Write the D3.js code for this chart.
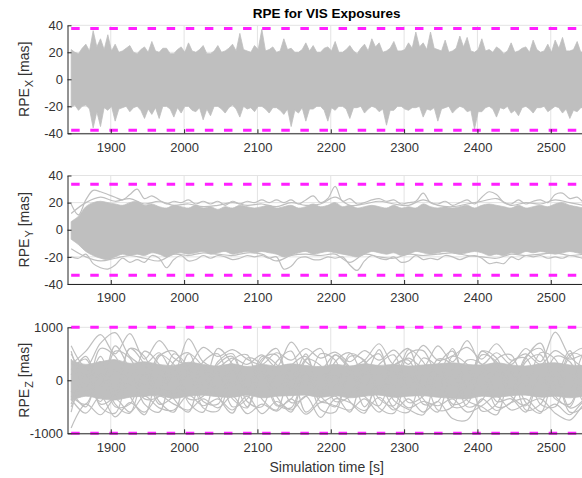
<!DOCTYPE html>
<html><head><meta charset="utf-8">
<script src="https://cdn.jsdelivr.net/npm/d3@7"></script>
<style>body{margin:0;background:#fff} svg{display:block}</style>
</head><body>
<svg id="chart" width="582" height="478"></svg>
<script>
// ---------- data ----------
const titleText = "RPE for VIS Exposures";
const xLabelText = "Simulation time [s]";
const timeStart = 1846;          // first sample [s]
const fineStep = 5;              // RPE_X envelope step [s]
const fastStep = 10;             // RPE_Y envelope step [s]
const slowStep = 20;             // smooth traces step [s]
const xDomain = [1841, 2549];
const xTickValues = [1900, 2000, 2100, 2200, 2300, 2400, 2500];
const yTicksXY = [-40, -20, 0, 20, 40];
const yTicksZ = [-1000, 0, 1000];

// requirement limits (magenta dashed)
const limitX = 37.7, limitY = 33.5, limitZ = 1000;

// RPE_X band envelope (5 s steps)
const rpeXUpper = [22,20,19,23,26,21,36,24,30,22,33,21,26,20,21,23,25,20,19,22,24,20,28,21,20,23,23,19,19,22,24,20,27,21,20,22,25,19,19,21,25,20,21,23,26,21,34,22,21,20,25,22,37,21,22,24,20,21,30,22,23,20,20,22,27,21,25,20,20,23,24,21,28,20,20,22,25,21,19,23,26,21,30,24,27,20,21,23,28,21,21,22,27,23,35,24,27,22,35,23,22,21,29,20,21,23,32,24,31,21,20,22,30,21,22,20,24,22,19,21,27,20,21,23,24,20,29,22,20,21,26,20,29,23,31,21,21,22,28,20,21,23,24];
const rpeXLower = [-21,-19,-23,-20,-19,-22,-36,-24,-35,-21,-23,-20,-31,-22,-21,-20,-24,-21,-20,-23,-29,-22,-26,-21,-29,-20,-20,-22,-28,-21,-25,-20,-20,-23,-24,-21,-30,-22,-27,-20,-20,-22,-25,-21,-19,-22,-28,-20,-22,-21,-24,-20,-20,-22,-25,-21,-21,-23,-26,-22,-35,-23,-25,-21,-31,-22,-22,-20,-20,-23,-31,-21,-23,-20,-20,-22,-29,-21,-21,-20,-25,-22,-20,-21,-24,-22,-34,-23,-23,-20,-20,-22,-23,-21,-21,-20,-28,-22,-23,-21,-31,-22,-21,-20,-25,-22,-20,-21,-24,-23,-37,-24,-24,-21,-20,-22,-28,-21,-22,-20,-25,-23,-27,-21,-20,-22,-25,-21,-21,-20,-24,-22,-20,-21,-25,-22,-29,-23,-24,-21,-21,-22,-23];

// RPE_Y dense core (10 s steps)
const rpeYCoreUpper = [6,10,17,20,21,20,19,18,20,21,18,19,17,16,18,17,16,18,16,17,15,17,16,18,17,16,17,18,16,17,18,16,17,19,17,18,20,17,18,16,17,18,17,16,18,16,17,16,19,17,16,17,16,17,18,16,18,19,18,17,16,18,16,17,18,17,19,20,18,17,16,17];
const rpeYCoreLower = [-7,-11,-16,-19,-21,-22,-20,-18,-19,-18,-19,-17,-18,-20,-18,-17,-18,-17,-16,-18,-17,-16,-18,-17,-16,-17,-16,-17,-18,-20,-19,-17,-16,-18,-17,-16,-17,-18,-19,-20,-18,-16,-17,-18,-17,-19,-18,-16,-17,-18,-17,-16,-17,-18,-17,-16,-17,-19,-18,-19,-17,-18,-16,-17,-16,-17,-18,-17,-16,-17,-18,-16];
// RPE_Y outer traces (10 s steps)
const rpeYUpperEnv = [19,11,22,29,28,26,24,22,26,30,23,25,22,19,21,20,22,19,21,19,21,18,21,19,21,20,22,20,22,20,22,19,22,25,20,23,32,21,23,19,20,22,23,21,22,19,20,21,27,20,19,21,18,20,22,19,24,28,26,20,19,22,19,21,22,20,26,27,23,24,20,22];
const rpeYLowerEnv = [-20,-21,-18,-25,-28,-29,-26,-21,-24,-22,-24,-19,-21,-28,-22,-19,-23,-22,-19,-21,-19,-20,-22,-21,-19,-20,-19,-21,-20,-29,-27,-21,-20,-22,-22,-20,-21,-20,-26,-30,-23,-19,-21,-22,-20,-24,-23,-19,-22,-21,-22,-19,-20,-22,-20,-19,-21,-25,-24,-25,-20,-22,-19,-20,-19,-21,-20,-21,-19,-20,-21,-19];
// RPE_Y intermediate traces (20 s steps)
const rpeYUpperMid = [12,20,24,21,23,19,21,18,19,17,18,20,18,19,17,20,18,19,24,18,19,21,19,18,22,18,17,19,21,23,18,20,19,22,20,18,19];
const rpeYLowerMid = [-14,-20,-23,-21,-19,-21,-23,-18,-19,-17,-18,-19,-17,-18,-23,-19,-18,-19,-18,-24,-18,-20,-21,-18,-19,-18,-17,-19,-20,-21,-18,-19,-18,-17,-19,-18,-17];

// RPE_Z dense core (20 s steps)
const rpeZCoreUpper = [380,300,350,390,320,350,300,280,340,300,270,310,260,300,270,310,280,260,300,270,310,280,300,270,290,310,330,300,290,330,290,270,310,330,290,280,300];
const rpeZCoreLower = [-380,-300,-350,-370,-320,-300,-290,-340,-300,-280,-310,-320,-280,-330,-300,-290,-280,-320,-290,-330,-300,-280,-320,-300,-290,-320,-340,-350,-300,-320,-290,-280,-320,-300,-330,-300,-290];
// RPE_Z individual runs (20 s steps)
const rpeZRunA = [650,250,700,900,450,300,520,150,780,350,250,420,300,480,250,720,350,200,480,250,380,690,300,420,250,650,350,750,300,520,300,600,350,910,450,250,380];
const rpeZRunB = [300,550,860,500,880,400,750,420,300,620,450,580,400,300,520,380,600,420,530,350,560,380,570,300,660,380,460,620,400,690,380,500,300,560,400,480,300];
const rpeZRunC = [-900,-450,-650,-350,-600,-300,-520,-560,-280,-480,-350,-560,-300,-630,-400,-560,-300,-700,-350,-420,-570,-320,-560,-350,-600,-400,-720,-750,-350,-570,-420,-350,-590,-450,-650,-400,-450];
const rpeZRunD = [-350,-620,-300,-690,-420,-600,-300,-450,-560,-350,-520,-300,-630,-450,-580,-350,-640,-420,-480,-560,-350,-600,-300,-520,-400,-480,-350,-600,-480,-300,-560,-450,-350,-620,-750,-450,-350];
const rpeZRunE = [100,450,-100,650,200,-300,450,550,100,-200,300,450,-150,400,480,0,500,-250,350,520,100,580,-200,500,560,100,600,-100,550,420,-150,450,600,100,560,-300,450];
const rpeZRunF = [-200,-500,150,-450,-620,100,-400,-600,200,-520,-580,0,-500,300,-450,-520,150,-550,-600,200,-500,-100,-520,-600,100,-560,-500,200,-580,-450,150,-560,-450,100,-600,-480,200];
const rpeZRunG = [400,-200,600,450,-100,550,300,-250,500,250,-150,380,480,-200,350,550,-100,500,380,-250,300,500,-100,580,350,-200,450,300,-150,400,480,-100,520,400,-200,520,400];
const rpeZRunH = [500,100,350,-300,600,300,-200,350,520,-100,600,300,-200,350,600,-150,380,600,-100,450,380,-200,350,600,-100,300,550,-150,480,350,-200,420,700,-100,450,600,-150];
const rpeZRunI = [-500,-100,-400,200,-300,-650,100,-350,-600,150,-300,-620,100,-350,-560,200,-600,-300,100,-400,-620,150,-380,-550,-650,100,-500,-450,150,-400,-350,-600,100,-350,-450,150,-400];
const rpeZRunJ = [-600,200,-500,-620,100,-450,-600,200,-420,-600,100,-350,-520,150,-300,-600,100,-400,-300,-600,150,-520,-620,100,-350,-600,200,-380,-500,-650,150,-420,-620,100,-520,-350,200];
const rpeZRunK = [200,400,-150,550,420,-100,480,300,-200,350,500,-100,420,300,-150,280,450,-200,480,250,-100,300,480,-150,420,250,-100,380,300,-200,350,420,-100,450,350,-150,420];
const rpeZRunL = [550,-100,450,-200,600,450,-150,500,250,-200,350,500,-150,450,300,-200,400,280,-150,500,350,-200,280,380,-150,400,300,-100,550,300,-200,350,480,-150,500,420,-100];
const rpeZRunM = [-300,-450,100,-500,-450,150,-450,-300,100,-400,-450,200,-400,-500,100,-420,-300,150,-400,-300,100,-350,-480,150,-450,-400,100,-500,-380,150,-300,-480,100,-300,-500,150,-450];
const rpeZRunN = [-450,100,-450,-300,150,-350,-300,100,-350,-300,150,-500,-350,100,-480,-350,150,-300,-500,100,-300,-480,150,-420,-300,100,-450,-350,150,-500,-420,100,-450,-500,150,-420,-300];

// ---------- drawing ----------
const GRAY = "#bfbfbf", MAGENTA = "#ff1fff", AXIS = "#262626", TXT = "#333333", GRID = "#e3e3e3";
const FONT = "'Liberation Sans', Arial, Helvetica, sans-serif";
const svg = d3.select("#chart");
const x = d3.scaleLinear().domain(xDomain).range([67.5, 586.7]);
const tAt = step => (d, i) => x(timeStart + i * step);

const panels = [
  {id: "X", domain: [-40, 40], top: 25.3, bottom: 133.3, ticks: yTicksXY, limit: limitX},
  {id: "Y", domain: [-40, 40], top: 175.5, bottom: 284, ticks: yTicksXY, limit: limitY},
  {id: "Z", domain: [-1000, 1000], top: 327.3, bottom: 433.3, ticks: yTicksZ, limit: limitZ}
];

const defs = svg.append("defs");

panels.forEach(p => {
  const y = d3.scaleLinear().domain(p.domain).range([p.bottom, p.top]);
  const g = svg.append("g");
  const [x0, x1] = x.range();

  defs.append("clipPath").attr("id", "clip" + p.id)
    .append("rect").attr("x", x0).attr("y", p.top).attr("width", x1 - x0).attr("height", p.bottom - p.top);

  // grid
  g.append("g").selectAll("line").data(xTickValues).join("line")
    .attr("x1", d => x(d)).attr("x2", d => x(d)).attr("y1", p.top).attr("y2", p.bottom)
    .attr("stroke", GRID).attr("stroke-width", 1);
  g.append("g").selectAll("line").data(p.ticks).join("line")
    .attr("x1", x0).attr("x2", x1).attr("y1", d => y(d)).attr("y2", d => y(d))
    .attr("stroke", GRID).attr("stroke-width", 1);

  const dg = g.append("g").attr("clip-path", `url(#clip${p.id})`);

  const bandArea = (upper, lower, step, curve) => {
    const idx = d3.range(upper.length);
    dg.append("path").datum(idx)
      .attr("d", d3.area().curve(curve)
        .x(i => x(timeStart + i * step)).y0(i => y(lower[i])).y1(i => y(upper[i])))
      .attr("fill", GRAY).attr("stroke", GRAY).attr("stroke-width", 0.8);
  };
  const trace = (vals, step, curve) => {
    dg.append("path").datum(vals)
      .attr("d", d3.line().curve(curve).x(tAt(step)).y(d => y(d)))
      .attr("fill", "none").attr("stroke", GRAY).attr("stroke-width", 1.2);
  };

  if (p.id === "X") {
    bandArea(rpeXUpper, rpeXLower, fineStep, d3.curveLinear);
  } else if (p.id === "Y") {
    bandArea(rpeYCoreUpper, rpeYCoreLower, fastStep, d3.curveCatmullRom);
    [rpeYUpperEnv, rpeYLowerEnv].forEach(v => trace(v, fastStep, d3.curveCatmullRom));
    [rpeYUpperMid, rpeYLowerMid].forEach(v => trace(v, slowStep, d3.curveCatmullRom));
  } else {
    bandArea(rpeZCoreUpper, rpeZCoreLower, slowStep, d3.curveCatmullRom);
    [rpeZRunA, rpeZRunB, rpeZRunC, rpeZRunD, rpeZRunE, rpeZRunF, rpeZRunG,
     rpeZRunH, rpeZRunI, rpeZRunJ, rpeZRunK, rpeZRunL, rpeZRunM, rpeZRunN]
      .forEach(v => trace(v, slowStep, d3.curveCatmullRom));
  }

  // limits
  [p.limit, -p.limit].forEach(v => {
    g.append("line").attr("x1", x(timeStart)).attr("x2", x1)
      .attr("y1", y(v)).attr("y2", y(v))
      .attr("stroke", MAGENTA).attr("stroke-width", 3).attr("stroke-dasharray", "8.5,10.6");
  });

  // axes
  const fmt = d => String(d);
  const ax = g.append("g").attr("transform", `translate(0,${p.bottom})`)
    .call(d3.axisBottom(x).tickValues(xTickValues).tickSizeInner(-4).tickSizeOuter(0).tickPadding(9.2).tickFormat(fmt));
  const ay = g.append("g").attr("transform", `translate(${x0},0)`)
    .call(d3.axisLeft(y).tickValues(p.ticks).tickSizeInner(-4).tickSizeOuter(0).tickPadding(4.5).tickFormat(fmt));
  [ax, ay].forEach(a => {
    a.select(".domain").attr("stroke", AXIS);
    a.selectAll(".tick line").attr("stroke", AXIS);
    a.selectAll("text").attr("fill", TXT).style("font-family", FONT).style("font-size", "13px");
  });

  // y label
  const cy = (p.top + p.bottom) / 2;
  const lab = svg.append("text").attr("transform", `translate(29,${cy}) rotate(-90)`)
    .attr("text-anchor", "middle").attr("fill", TXT)
    .style("font-family", FONT).style("font-size", "14px");
  lab.append("tspan").text("RPE");
  lab.append("tspan").attr("dy", 4).attr("dx", 1).style("font-size", "11px").text(p.id);
  lab.append("tspan").attr("dy", -4).text(" [mas]");
});

svg.append("text").attr("x", 326.7).attr("y", 18).attr("text-anchor", "middle")
  .attr("fill", "#000").style("font-family", FONT).style("font-size", "13.5px").style("font-weight", "bold")
  .text(titleText);
svg.append("text").attr("x", 326.7).attr("y", 472).attr("text-anchor", "middle")
  .attr("fill", TXT).style("font-family", FONT).style("font-size", "14px")
  .text(xLabelText);
</script>
</body></html>
